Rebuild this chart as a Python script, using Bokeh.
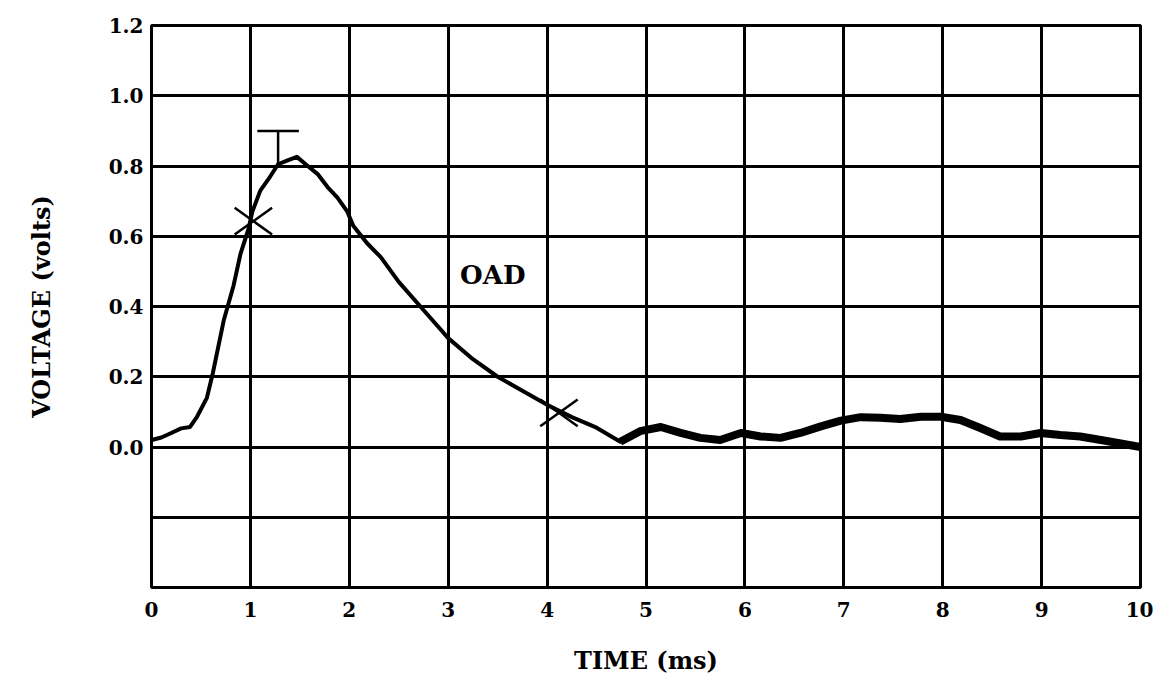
from bokeh.plotting import figure
from bokeh.models import FixedTicker, Label
from bokeh.embed import file_html
from bokeh.resources import INLINE

# ---- data ----
time_ms = [0.0, 0.1, 0.2, 0.3, 0.39, 0.46, 0.56, 0.62, 0.73, 0.83, 0.9, 0.98,
           1.02, 1.1, 1.2, 1.28, 1.37, 1.47, 1.58, 1.68, 1.78, 1.88, 1.98,
           2.04, 2.18, 2.32, 2.5, 2.75, 3.0, 3.25, 3.5, 3.75, 4.0, 4.25, 4.5,
           4.74, 4.94, 5.15, 5.35, 5.55, 5.75, 5.96, 6.16, 6.36, 6.56, 6.76,
           6.97, 7.17, 7.37, 7.57, 7.78, 7.98, 8.18, 8.38, 8.58, 8.79, 8.99,
           9.19, 9.39, 9.6, 9.8, 10.0]
voltage = [0.02, 0.027, 0.04, 0.053, 0.057, 0.086, 0.14, 0.21, 0.36, 0.46,
           0.55, 0.62, 0.67, 0.73, 0.77, 0.805, 0.815, 0.826, 0.80, 0.777,
           0.74, 0.71, 0.67, 0.63, 0.58, 0.54, 0.47, 0.39, 0.31, 0.25, 0.20,
           0.16, 0.12, 0.085, 0.055, 0.015, 0.045, 0.057, 0.04, 0.026, 0.02,
           0.04, 0.03, 0.026, 0.04, 0.058, 0.075, 0.085, 0.083, 0.08, 0.086,
           0.086, 0.077, 0.054, 0.03, 0.03, 0.04, 0.034, 0.03, 0.02, 0.01, 0.0]
noisy_from_index = 35  # trace becomes a broad noisy band from ~4.7 ms

x_ticks = [0, 1, 2, 3, 4, 5, 6, 7, 8, 9, 10]
y_ticks = [-0.4, -0.2, 0.0, 0.2, 0.4, 0.6, 0.8, 1.0, 1.2]
y_tick_labels = ["", "", "0.0", "0.2", "0.4", "0.6", "0.8", "1.0", "1.2"]

# cross markers (points of interest on the curve)
cross_x = [1.03, 4.12]
cross_y = [0.643, 0.097]
# "T" marker (peak)
peak_x = 1.28
peak_top = 0.90
peak_base = 0.806
peak_bar_half = 0.21

label_text = "OAD"
label_x = 3.12
label_y = 0.49

FONT = "DejaVu Serif"

p = figure(width=1153, height=680, x_range=(0, 10), y_range=(-0.4, 1.2),
           output_backend="svg", toolbar_location=None,
           min_border_left=151, min_border_right=13,
           min_border_top=25, min_border_bottom=93)

p.background_fill_color = "white"
p.border_fill_color = "white"
p.outline_line_color = "black"
p.outline_line_width = 3

p.xaxis.ticker = FixedTicker(ticks=x_ticks)
p.yaxis.ticker = FixedTicker(ticks=y_ticks)
p.yaxis.major_label_overrides = {t: l for t, l in zip(y_ticks, y_tick_labels)}
p.xaxis.major_label_overrides = {t: str(t) for t in x_ticks}

for ax in (p.xaxis, p.yaxis):
    ax.axis_line_color = None
    ax.major_tick_line_color = None
    ax.minor_tick_line_color = None
    ax.major_label_text_font = FONT
    ax.major_label_text_font_style = "bold"
    ax.major_label_text_font_size = "20px"
    ax.major_label_text_color = "black"
    ax.axis_label_text_font = FONT
    ax.axis_label_text_font_style = "bold"
    ax.axis_label_text_font_size = "24px"
    ax.axis_label_text_color = "black"

p.yaxis.major_label_standoff = 2
p.xaxis.major_label_standoff = 8
p.xaxis.axis_label = "TIME (ms)"
p.yaxis.axis_label = "VOLTAGE (volts)"
p.xaxis.axis_label_standoff = 26
p.yaxis.axis_label_standoff = 50

p.xgrid.ticker = FixedTicker(ticks=x_ticks)
p.ygrid.ticker = FixedTicker(ticks=y_ticks)
for g in (p.xgrid, p.ygrid):
    g.grid_line_color = "black"
    g.grid_line_width = 3
    g.grid_line_alpha = 1.0

# signal trace
p.line(time_ms, voltage, line_color="black", line_width=4, line_join="round")
p.line(time_ms[noisy_from_index:], voltage[noisy_from_index:],
       line_color="black", line_width=8, line_join="round")

# cross markers: two slanted dashes each
p.scatter(cross_x, cross_y, marker="dash", size=46, angle=0.62,
          line_color="black", line_width=2.5)
p.scatter(cross_x, cross_y, marker="dash", size=46, angle=-0.62,
          line_color="black", line_width=2.5)

# peak "T" marker
p.segment(x0=[peak_x - peak_bar_half, peak_x], y0=[peak_top, peak_top],
          x1=[peak_x + peak_bar_half, peak_x], y1=[peak_top, peak_base],
          line_color="black", line_width=2.5)

p.add_layout(Label(x=label_x, y=label_y, text=label_text, text_font=FONT,
                   text_font_style="bold", text_font_size="26px",
                   text_color="black", text_baseline="middle",
                   text_align="left"))

open("out.html", "w").write(file_html(p, INLINE))
